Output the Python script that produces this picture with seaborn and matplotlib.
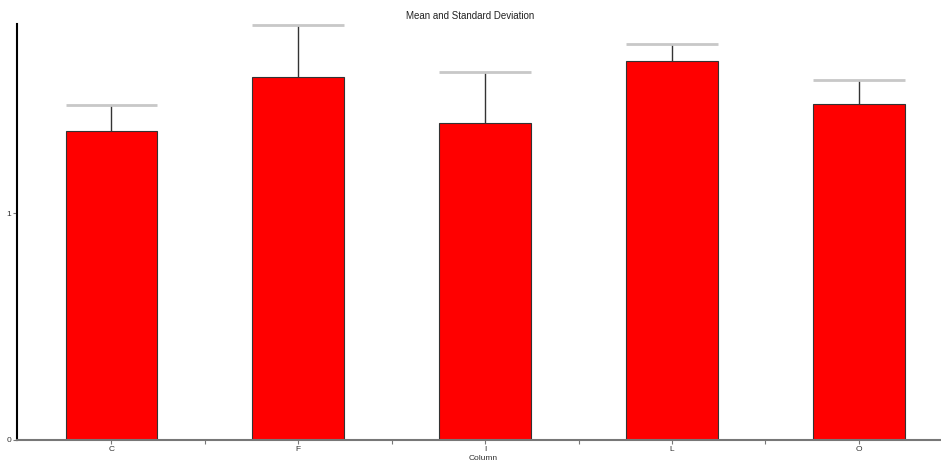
import matplotlib
matplotlib.use("Agg")
import matplotlib.pyplot as plt
import seaborn as sns
import pandas as pd

# Column means and standard deviations
columns = ["C", "F", "I", "L", "O"]
means = [1.361, 1.599, 1.396, 1.670, 1.480]
sds = [0.115, 0.229, 0.225, 0.075, 0.106]

df = pd.DataFrame({"Column": columns, "Mean": means})

sns.set_style("white")
plt.rcParams["font.family"] = ["Liberation Sans", "DejaVu Sans"]

fig = plt.figure(figsize=(9.41, 4.63), dpi=100)
ax = fig.add_axes([17 / 941, 23 / 463, 1 - 17 / 941, (440 - 24) / 463])

sns.barplot(data=df, x="Column", y="Mean", color="#ff0000", saturation=1,
            width=0.49, errorbar=None, edgecolor="#333333", linewidth=0.8, ax=ax)

# Upward standard-deviation whiskers with wide caps
for patch, m, s in zip(ax.patches, means, sds):
    cx = patch.get_x() + patch.get_width() / 2
    ax.vlines(cx, m, m + s, color="#333333", linewidth=1.0, zorder=3)
    ax.hlines(m + s, patch.get_x(), patch.get_x() + patch.get_width(),
              color="#c8c8c8", linewidth=2.0, zorder=3)

ax.set_xlim(-0.505, 4.44)
ax.set_ylim(0, 1.833)
ax.set_yticks([0, 1])
ax.set_yticklabels(["0", "1"])
ax.set_xticks(range(len(columns)))
ax.set_xticklabels(columns)
ax.set_xticks([0.5, 1.5, 2.5, 3.5], minor=True)

for side in ["top", "right"]:
    ax.spines[side].set_visible(False)
ax.spines["left"].set_color("black")
ax.spines["left"].set_linewidth(1.5)
ax.spines["bottom"].set_color("#777777")
ax.spines["bottom"].set_linewidth(1.5)

ax.tick_params(axis="both", which="major", labelsize=6, length=3, width=0.8,
               color="#777777", labelcolor="#333333", pad=1)
ax.tick_params(axis="x", which="minor", length=3, width=0.8, color="#777777")
ax.tick_params(axis="x", bottom=True, which="both")
ax.tick_params(axis="y", left=True)

ax.set_xlabel("")
ax.set_ylabel("")
fig.text(483 / 941, 1 - 458.5 / 463, "Column", ha="center", va="center",
         fontsize=6, color="#333333")
fig.text(0.5, 1 - 16 / 463, "Mean and Standard Deviation", ha="center",
         va="center", fontsize=7, color="#222222")

fig.savefig("out.png", dpi=100)
